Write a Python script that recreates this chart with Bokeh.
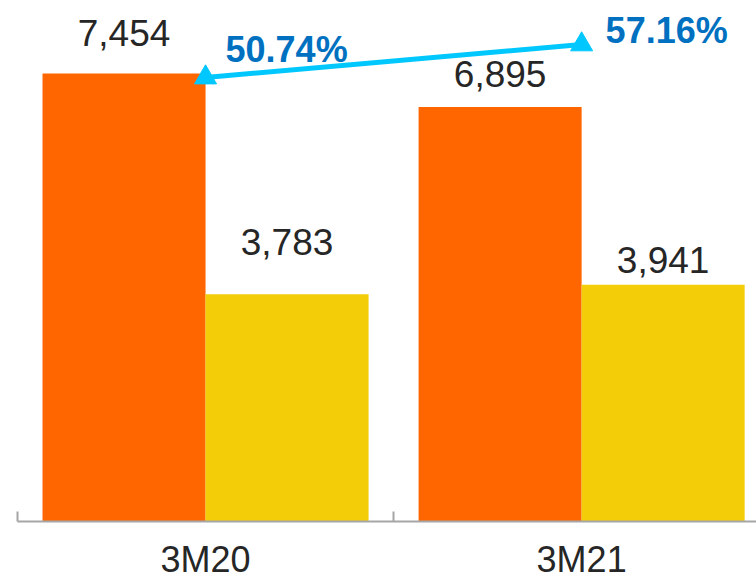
from bokeh.plotting import figure
from bokeh.models import Range1d, FixedTicker, ColumnDataSource, LinearAxis
from bokeh.core.properties import value
from bokeh.embed import file_html
from bokeh.resources import INLINE
import numpy as np

# ---- data ----
categories = ["3M20", "3M21"]
orange_vals = [7454, 6895]
yellow_vals = [3783, 3941]
pct_vals = [50.74, 57.16]
pct_labels = ["50.74%", "57.16%"]

# ---- styles ----
ORANGE = "#FF6600"
YELLOW = "#F3CD08"
CYAN = "#00C8FF"
BLUE = "#0070C0"
TEXT = "#262626"
FONT = value("Liberation Sans")
bar_w = 0.4335
# per-label vertical offsets (px) for value labels
orange_dy = [-41, -33]
yellow_dy = [-52, -25]

idx = np.arange(len(categories))
centers = idx + 0.5

p = figure(width=756, height=582, output_backend="svg", toolbar_location=None,
           x_range=Range1d(0, 1.965), y_range=Range1d(0, 8669),
           min_border_left=17, min_border_right=0, min_border_top=0, min_border_bottom=61,
           y_axis_location=None, x_axis_location=None)
p.extra_y_ranges = {"pct": Range1d(-35.49, 65.70)}
p.outline_line_color = None
p.xgrid.visible = False
p.ygrid.visible = False
p.background_fill_color = "white"
p.border_fill_color = "white"

xo = centers - bar_w / 2
xy = centers + bar_w / 2
p.vbar(x=xo, top=orange_vals, width=bar_w, fill_color=ORANGE, line_color=None)
p.vbar(x=xy, top=yellow_vals, width=bar_w, fill_color=YELLOW, line_color=None)

# value labels
src = ColumnDataSource(dict(
    x=np.concatenate([xo, xy]),
    y=orange_vals + yellow_vals,
    text=[f"{v:,}" for v in orange_vals + yellow_vals],
    dy=orange_dy + yellow_dy,
))
p.text(x="x", y="y", text="text", y_offset="dy", source=src,
       text_font=FONT, text_font_size="37px", text_color=TEXT,
       text_align="center", text_baseline="alphabetic")

# percentage line on secondary scale
p.line(x=centers, y=pct_vals, y_range_name="pct", line_color=CYAN, line_width=5)
p.scatter(x=centers, y=pct_vals, y_range_name="pct", marker="triangle",
          size=22, fill_color=CYAN, line_color=CYAN)
p.text(x=[centers[0]], y=[pct_vals[0]], text=[pct_labels[0]], y_range_name="pct",
       x_offset=20, y_offset=-28, text_font=FONT, text_font_size="36px",
       text_font_style="bold", text_color=BLUE, text_align="left", text_baseline="middle")
p.text(x=[centers[1]], y=[pct_vals[1]], text=[pct_labels[1]], y_range_name="pct",
       x_offset=24, y_offset=-14, text_font=FONT, text_font_size="36px",
       text_font_style="bold", text_color=BLUE, text_align="left", text_baseline="middle")

# category axis
xaxis = LinearAxis(ticker=FixedTicker(ticks=list(centers), minor_ticks=list(range(len(categories) + 1))))
xaxis.major_label_overrides = {float(c): n for c, n in zip(centers, categories)}
xaxis.major_tick_in = 0
xaxis.major_tick_out = 0
xaxis.minor_tick_in = 10
xaxis.minor_tick_out = 0
xaxis.minor_tick_line_color = "#A6A6A6"
xaxis.minor_tick_line_width = 2
xaxis.axis_line_color = "#A6A6A6"
xaxis.axis_line_width = 2
xaxis.major_label_text_font = "Liberation Sans"
xaxis.major_label_text_font_size = "36px"
xaxis.major_label_text_color = TEXT
xaxis.major_label_standoff = 17
p.add_layout(xaxis, "below")

open("out.html", "w").write(file_html(p, INLINE))
